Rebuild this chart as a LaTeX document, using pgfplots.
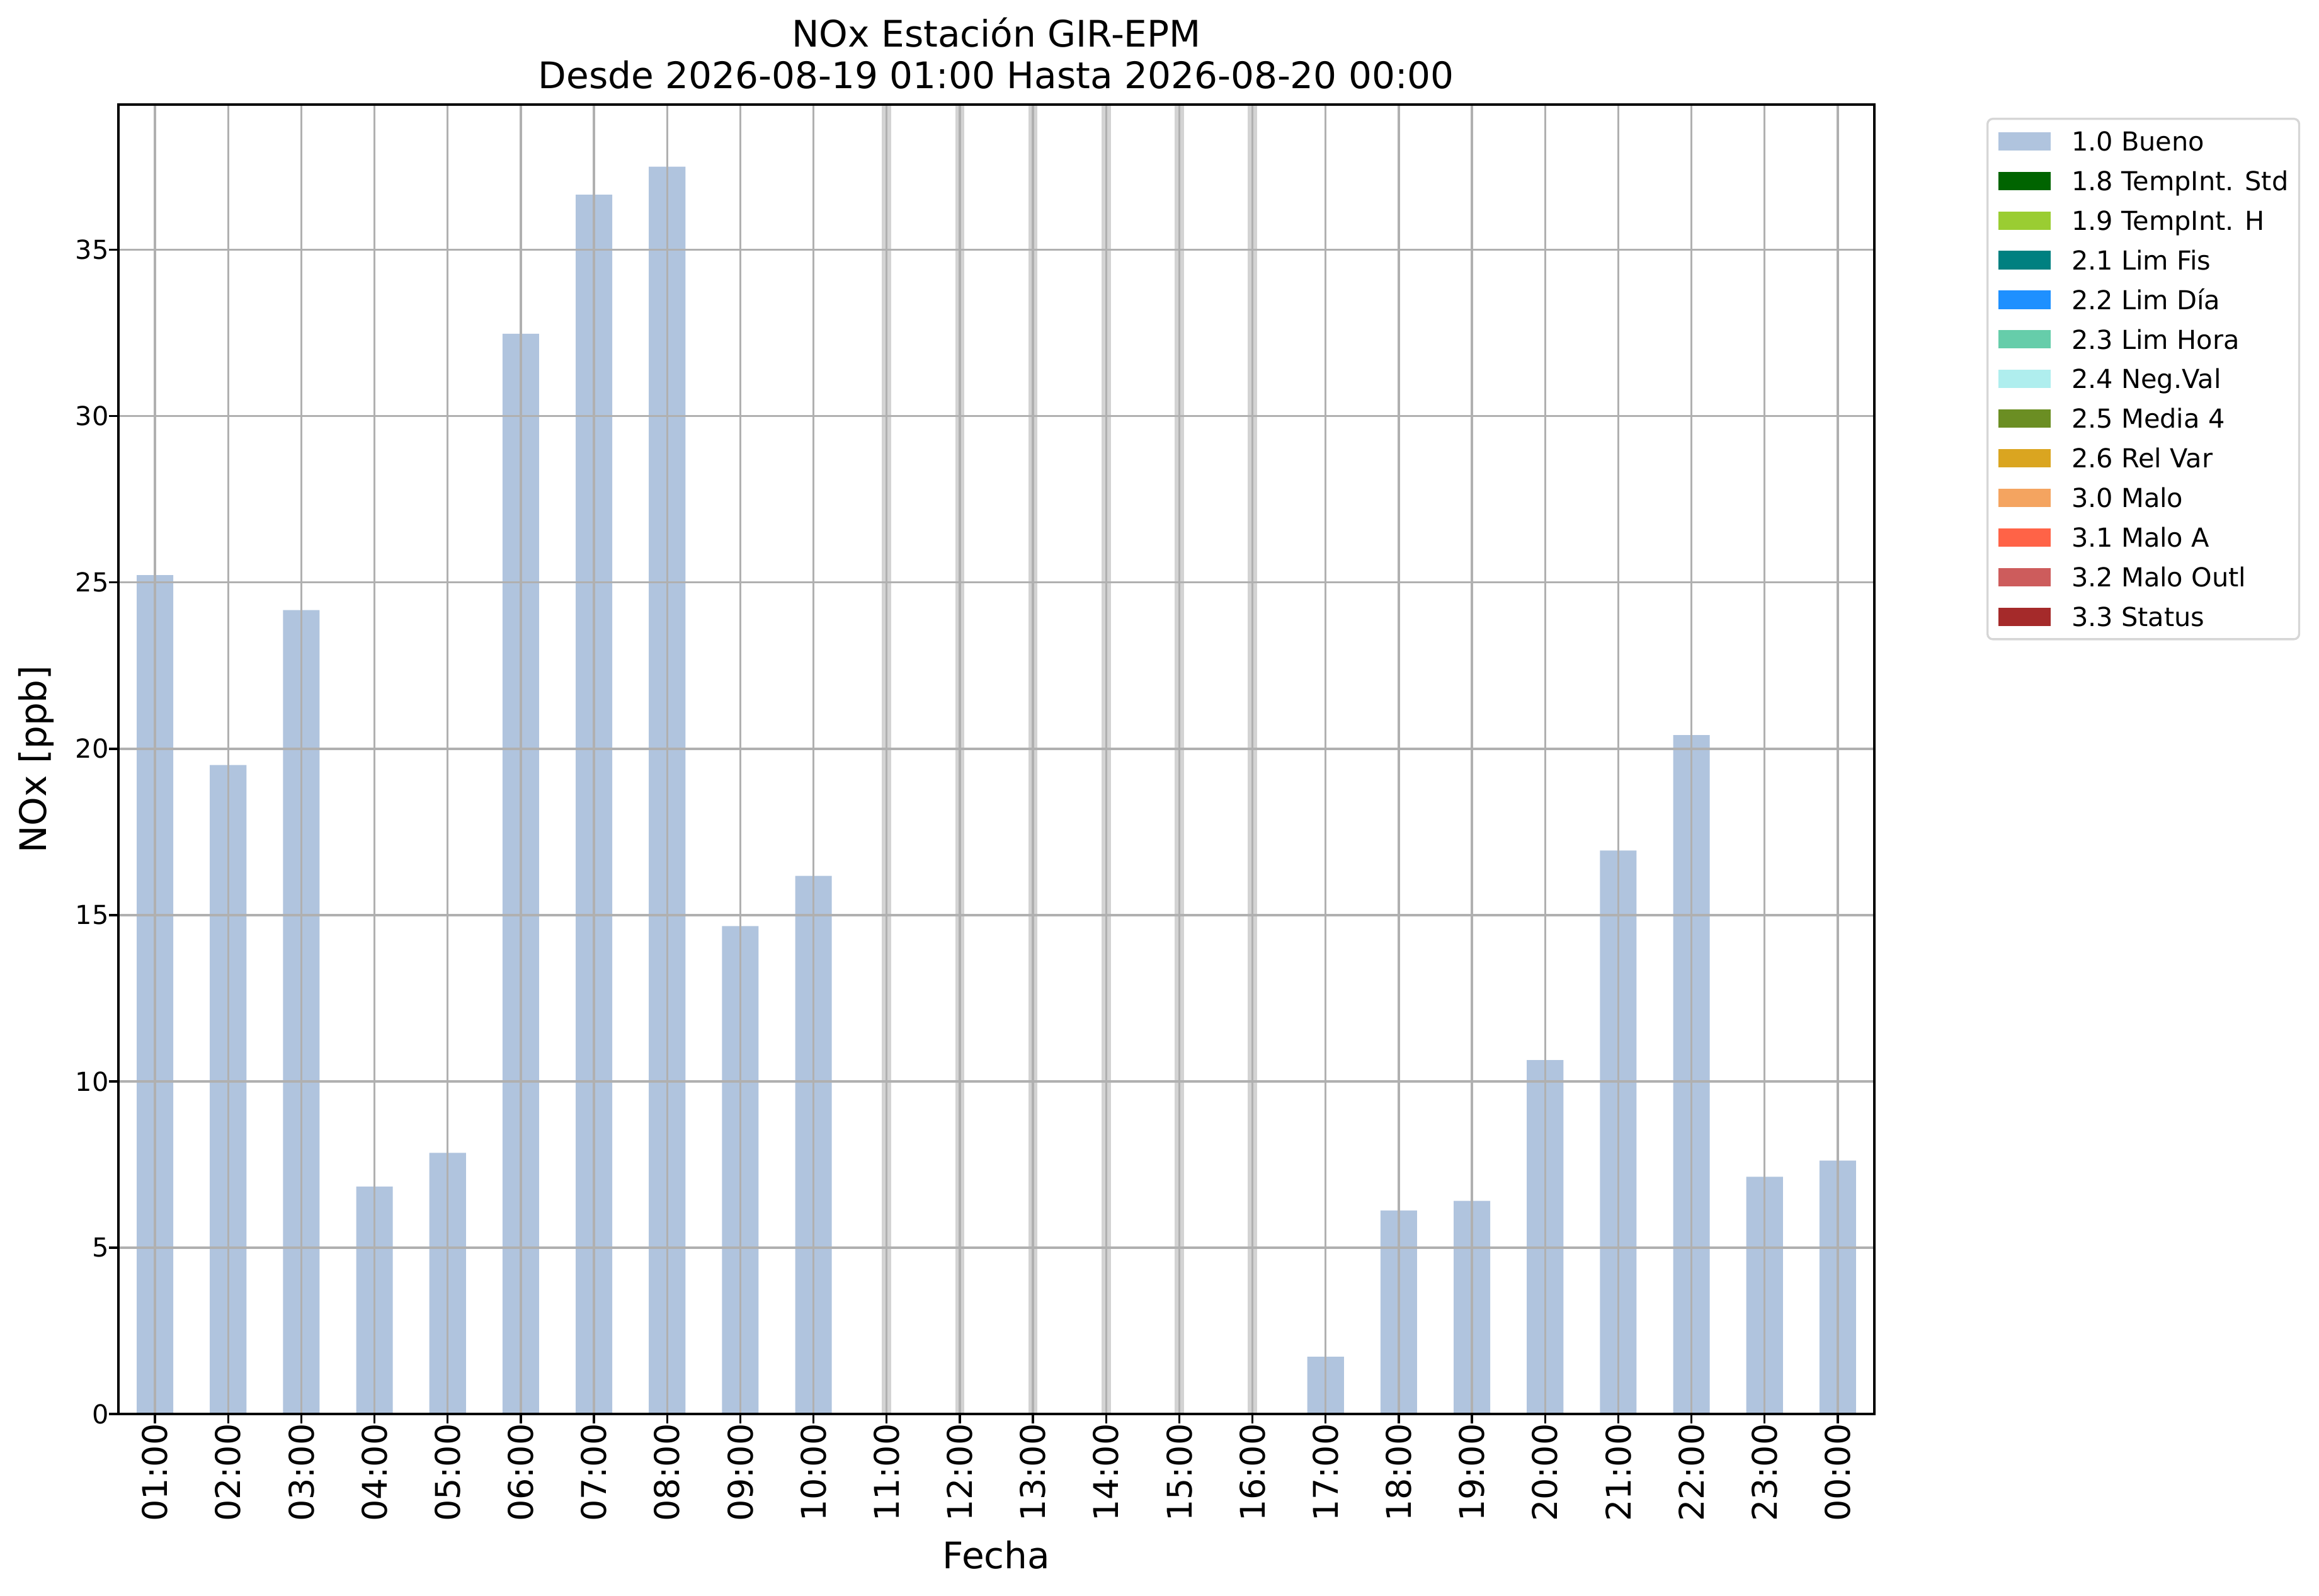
\documentclass[border=0pt]{standalone}
\usepackage{fontspec}
\setmainfont{DejaVu Sans}
\usepackage{pgfplots}
\pgfplotsset{compat=1.18}
\usepackage{pgfplotstable}
\definecolor{bueno}{HTML}{B0C4DE}
\definecolor{c18}{HTML}{006400}
\definecolor{c19}{HTML}{9ACD32}
\definecolor{c21}{HTML}{008080}
\definecolor{c22}{HTML}{1E90FF}
\definecolor{c23}{HTML}{66CDAA}
\definecolor{c24}{HTML}{AFEEEE}
\definecolor{c25}{HTML}{6B8E23}
\definecolor{c26}{HTML}{DAA520}
\definecolor{c30}{HTML}{F4A460}
\definecolor{c31}{HTML}{FF6347}
\definecolor{c32}{HTML}{CD5C5C}
\definecolor{c33}{HTML}{A52A2A}
\definecolor{gridgray}{HTML}{B0B0B0}
\definecolor{missgray}{HTML}{D3D3D3}
\definecolor{legendgray}{HTML}{D6D6D6}
\pgfplotsset{mylegend/.style={legend image code/.code={\fill[sharp corners,##1] (0bp,-3.5bp) rectangle (19.92bp,3.5bp);}}}
\pgfplotstableread{
x y
0 25.22
1 19.51
2 24.17
3 6.84
4 7.85
5 32.48
6 36.66
7 37.50
8 14.67
9 16.18
16 1.72
17 6.12
18 6.41
19 10.64
20 16.94
21 20.41
22 7.13
23 7.62
}\datatable
\pgfplotstableread{
x y
10 39.37
11 39.37
12 39.37
13 39.37
14 39.37
15 39.37
}\missing
\begin{document}
\begin{tikzpicture}
\begin{axis}[
  at={(0,0)}, anchor=south west,
  scale only axis, width=669.12bp, height=498.96bp,
  xmin=-0.5, xmax=23.5, ymin=0, ymax=39.37,
  xtick={0,...,23},
  xticklabels={01:00,02:00,03:00,04:00,05:00,06:00,07:00,08:00,09:00,10:00,11:00,12:00,13:00,14:00,15:00,16:00,17:00,18:00,19:00,20:00,21:00,22:00,23:00,00:00},
  ytick={0,5,10,15,20,25,30,35},
  grid=major,
  major grid style={color=gridgray, line width=0.8bp},
  axis on top,
  tick align=outside, tick pos=left,
  major tick length=3.5bp,
  every tick/.style={black, line width=0.8bp},
  axis line style={black, line width=0.8bp},
  xticklabel style={rotate=90, anchor=east, inner sep=0pt, font=\fontsize{13}{15}\selectfont},
  yticklabel style={anchor=east, inner sep=0pt, font=\fontsize{10}{12}\selectfont},
  /pgf/number format/assume math mode=true,
  title={NOx Estación GIR-EPM\\Desde 2026-08-19 01:00 Hasta 2026-08-20 00:00},
  title style={at={(0.5,1.0)}, anchor=south, align=center, inner sep=0pt, text depth=0pt, font=\fontsize{14}{15.8}\selectfont},
  xlabel={Fecha},
  xlabel style={at={(0.5,-0.11818)}, anchor=base, inner sep=0pt, font=\fontsize{14}{16}\selectfont},
  ylabel={NOx [ppb]},
  ylabel style={at={(-0.04089,0.5)}, anchor=base, inner sep=0pt, font=\fontsize{14}{16}\selectfont},
  legend cell align=left,
  legend style={at={(1.06384,0.98990)}, anchor=north west, draw=legendgray, line width=0.8bp,
    rounded corners=2bp, fill=white, inner xsep=4.08bp, inner ysep=4.9bp,
    row sep=7.81bp, column sep=8bp, font=\fontsize{10}{12}\selectfont,
    nodes={inner sep=0pt, text height=7.29bp, text depth=0bp, anchor=west}},
]
\addplot[ycomb, draw=missgray, line width=3.5bp, mark=none, forget plot] table[x=x,y=y]{\missing};
\addplot[ybar, bar width=0.5, fill=bueno, draw=none, mylegend] table[x=x,y=y]{\datatable};
\addlegendentry{1.0 Bueno}
\addlegendimage{mylegend, fill=c18, draw=none}
\addlegendentry{1.8 TempInt. Std}
\addlegendimage{mylegend, fill=c19, draw=none}
\addlegendentry{1.9 TempInt. H}
\addlegendimage{mylegend, fill=c21, draw=none}
\addlegendentry{2.1 Lim Fis}
\addlegendimage{mylegend, fill=c22, draw=none}
\addlegendentry{2.2 Lim Día}
\addlegendimage{mylegend, fill=c23, draw=none}
\addlegendentry{2.3 Lim Hora}
\addlegendimage{mylegend, fill=c24, draw=none}
\addlegendentry{2.4 Neg.Val}
\addlegendimage{mylegend, fill=c25, draw=none}
\addlegendentry{2.5 Media 4}
\addlegendimage{mylegend, fill=c26, draw=none}
\addlegendentry{2.6 Rel Var}
\addlegendimage{mylegend, fill=c30, draw=none}
\addlegendentry{3.0 Malo}
\addlegendimage{mylegend, fill=c31, draw=none}
\addlegendentry{3.1 Malo A}
\addlegendimage{mylegend, fill=c32, draw=none}
\addlegendentry{3.2 Malo Outl}
\addlegendimage{mylegend, fill=c33, draw=none}
\addlegendentry{3.3 Status}
\end{axis}
\pgfresetboundingbox
\path[use as bounding box] (-45.12bp,-69.36bp) rectangle (838.56bp,538.8bp);
\end{tikzpicture}
\end{document}
